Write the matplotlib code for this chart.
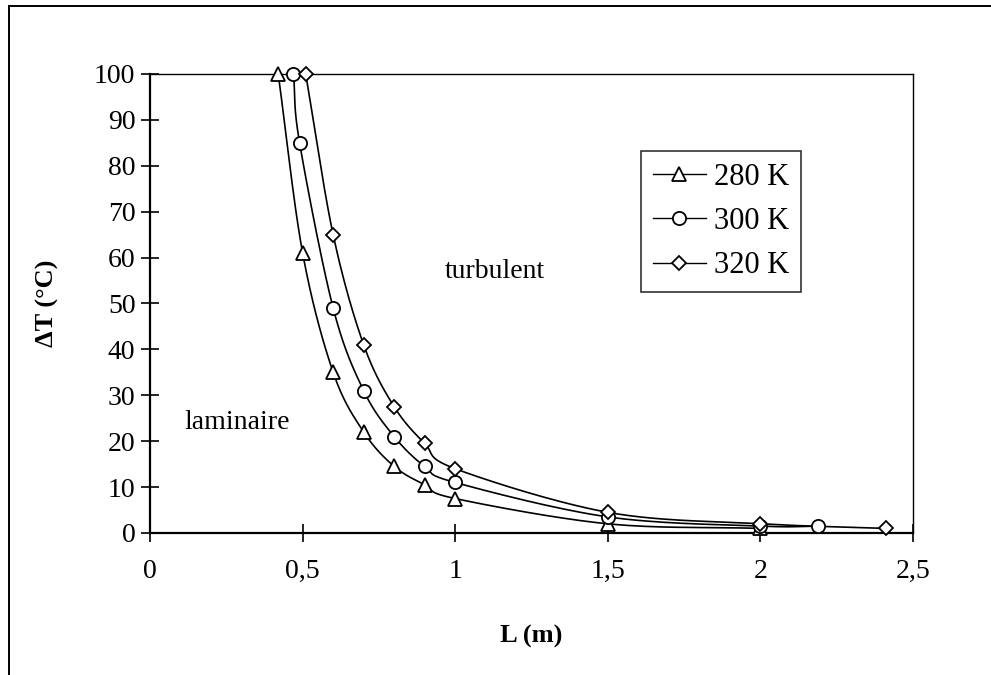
import numpy as np
import matplotlib
matplotlib.use("Agg")
import matplotlib.pyplot as plt
from matplotlib.lines import Line2D

plt.rcParams['font.family'] = ['Liberation Serif', 'DejaVu Serif']

# Longueur critique L (m) en fonction de l'écart de température
L_280 = [0.42, 0.50, 0.60, 0.70, 0.80, 0.90, 1.00, 1.50, 2.00]
dT_280 = [100, 61, 35, 22, 14.5, 10.5, 7.5, 2, 1]

L_300 = [0.47, 0.49, 0.60, 0.70, 0.80, 0.90, 1.00, 1.50, 2.00, 2.19]
dT_300 = [100, 85, 49, 31, 21, 14.5, 11, 3.5, 1.5, 1.5]

L_320 = [0.51, 0.60, 0.70, 0.80, 0.90, 1.00, 1.50, 2.00, 2.41]
dT_320 = [100, 65, 41, 27.5, 19.5, 14, 4.5, 2, 1]

labels = ['280 K', '300 K', '320 K']
markers = ['^', 'o', 'D']
msizes = [10, 9.5, 7.5]

x_ticks = [0, 0.5, 1, 1.5, 2, 2.5]
x_ticklabels = ['0', '0,5', '1', '1,5', '2', '2,5']
y_ticks = list(range(0, 101, 10))


def smooth(x, y, n=30):
    # courbe lissée type Catmull-Rom entre les points
    x = np.asarray(x, float)
    y = np.asarray(y, float)
    px = np.concatenate([[2 * x[0] - x[1]], x, [2 * x[-1] - x[-2]]])
    py = np.concatenate([[2 * y[0] - y[1]], y, [2 * y[-1] - y[-2]]])
    xs, ys = [], []
    t = np.linspace(0, 1, n)
    for i in range(1, len(px) - 2):
        p0x, p1x, p2x, p3x = px[i - 1:i + 3]
        p0y, p1y, p2y, p3y = py[i - 1:i + 3]
        cx = 0.5 * ((2 * p1x) + (-p0x + p2x) * t + (2 * p0x - 5 * p1x + 4 * p2x - p3x) * t ** 2
                    + (-p0x + 3 * p1x - 3 * p2x + p3x) * t ** 3)
        cy = 0.5 * ((2 * p1y) + (-p0y + p2y) * t + (2 * p0y - 5 * p1y + 4 * p2y - p3y) * t ** 2
                    + (-p0y + 3 * p1y - 3 * p2y + p3y) * t ** 3)
        xs.extend(cx)
        ys.extend(cy)
    return np.array(xs), np.array(ys)


fig = plt.figure(figsize=(9.91, 6.75), dpi=100)
ax = fig.add_axes([0.1514, 0.2104, 0.7699, 0.68])

handles = []
for xv, yv, lab, mk, ms in zip([L_280, L_300, L_320], [dT_280, dT_300, dT_320], labels, markers, msizes):
    sx, sy = smooth(xv, yv)
    ax.plot(sx, sy, color='black', linewidth=1.2, clip_on=False, zorder=2)
    ax.plot(xv, yv, linestyle='none', marker=mk, markersize=ms, markerfacecolor='white',
            markeredgecolor='black', markeredgewidth=1.3, clip_on=False, zorder=3)
    handles.append(Line2D([], [], color='black', linewidth=1.0, marker=mk, markersize=ms,
                          markerfacecolor='white', markeredgecolor='black', markeredgewidth=1.3))

ax.set_xlim(0, 2.5)
ax.set_ylim(0, 100)
ax.set_xticks(x_ticks)
ax.set_xticklabels(x_ticklabels)
ax.set_yticks(y_ticks)
ax.tick_params(direction='inout', length=13, width=1.2, labelsize=20, colors='black')
ax.tick_params(axis='x', pad=12)
ax.tick_params(axis='y', pad=4)

for side in ['left', 'bottom']:
    ax.spines[side].set_linewidth(1.6)
for side in ['top', 'right']:
    ax.spines[side].set_linewidth(1.0)

ax.set_xlabel('L (m)', fontsize=19, fontweight='bold', labelpad=30)
ax.set_ylabel('ΔT (°C)', fontsize=19, fontweight='bold', labelpad=25)

ax.text(1.13, 57, 'turbulent', fontsize=20, ha='center', va='center')
ax.text(0.285, 24, 'laminaire', fontsize=20, ha='center', va='center')

leg = ax.legend(handles, labels, loc='upper left', bbox_to_anchor=(0.6435, 0.832), fontsize=22,
                frameon=True, fancybox=False, edgecolor='black', handlelength=1.75,
                handletextpad=0.25, labelspacing=0.5, borderpad=0.38, borderaxespad=0)
leg.get_frame().set_linewidth(1.2)

# cadre extérieur (bords gauche et haut)
fig.add_artist(Line2D([9 / 991, 9 / 991], [0, 1 - 6 / 675], transform=fig.transFigure,
                      color='black', linewidth=1.4))
fig.add_artist(Line2D([9 / 991, 1], [1 - 6 / 675, 1 - 6 / 675], transform=fig.transFigure,
                      color='black', linewidth=1.4))

fig.savefig('out.png', dpi=100)
